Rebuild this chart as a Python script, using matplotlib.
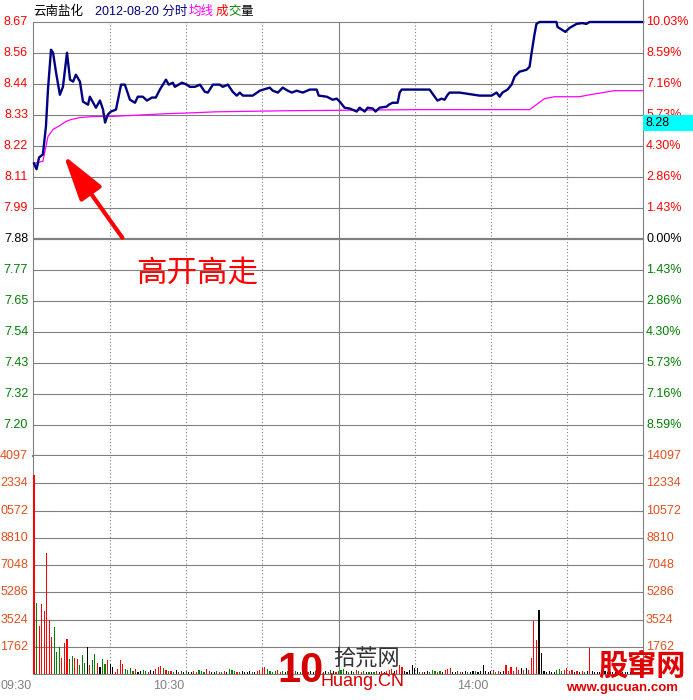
import matplotlib
matplotlib.use('Agg')
import matplotlib.pyplot as plt
from matplotlib.lines import Line2D
from matplotlib.patches import Rectangle

plt.rcParams['font.family'] = ['Liberation Sans', 'Noto Sans CJK SC', 'DejaVu Sans']

# --- data --------------------------------------------------------------
# price line (minute index from 09:30, price)
price_minute = [0, 1, 2, 3.5, 4.7, 5.5, 6.7, 7.5, 8.7, 10.2, 11.4, 13, 14.2, 15.4, 16.5,
                18.1, 19.3, 21.3, 22, 24.4, 26, 27.2, 28, 29.1, 30.3, 32.3, 34.3, 35.8,
                37.8, 39.8, 40.9, 42.9, 44.5, 46.5, 48, 49.6, 52, 53.1, 54.7, 55.5, 58.3,
                60.2, 61.4, 63.4, 65.4, 67.3, 68.5, 70.5, 73.2, 74.4, 76.4, 78.3, 79.9,
                81.1, 82.3, 86.2, 89, 92.9, 94.1, 96.1, 98, 100, 101.6, 103.5, 105.9,
                108.7, 111.4, 112.2, 115.4, 117.7, 119.3, 120.5, 122.4, 124.4, 127.2,
                128.3, 130.3, 131.5, 133.5, 134.6, 136.2, 139, 139.8, 141.3, 143.3, 144.1,
                144.9, 155.9, 157.9, 159, 160.6, 161.8, 163, 163.8, 167.7, 175.6, 180.3,
                182.3, 183.5, 184.6, 186.6, 188.2, 189.4, 191.3, 194.1, 195.3, 196.1,
                197.2, 198, 199.2, 205.9, 206.3, 209.4, 211, 213.8, 216.1, 217.7, 218.9, 240]
price_value = [8.155, 8.134, 8.177, 8.188, 8.29, 8.424, 8.569, 8.558, 8.485, 8.405, 8.434,
               8.558, 8.46, 8.453, 8.478, 8.453, 8.38, 8.369, 8.398, 8.358, 8.384, 8.351,
               8.304, 8.333, 8.344, 8.351, 8.442, 8.442, 8.387, 8.376, 8.398, 8.398, 8.384,
               8.395, 8.395, 8.424, 8.46, 8.442, 8.449, 8.434, 8.449, 8.442, 8.434, 8.434,
               8.442, 8.416, 8.413, 8.442, 8.442, 8.434, 8.442, 8.416, 8.402, 8.413, 8.402,
               8.402, 8.42, 8.431, 8.42, 8.413, 8.431, 8.42, 8.413, 8.42, 8.413, 8.424,
               8.424, 8.402, 8.398, 8.387, 8.391, 8.38, 8.358, 8.355, 8.344, 8.358, 8.344,
               8.358, 8.355, 8.344, 8.358, 8.362, 8.369, 8.376, 8.376, 8.413, 8.424, 8.424,
               8.398, 8.384, 8.391, 8.387, 8.405, 8.413, 8.413, 8.402, 8.402, 8.413, 8.398,
               8.413, 8.424, 8.442, 8.471, 8.489, 8.496, 8.507, 8.558, 8.623, 8.663, 8.67,
               8.67, 8.652, 8.634, 8.648, 8.663, 8.666, 8.663, 8.67, 8.67]

# average price line
avg_minute = [0, 3.5, 5.5, 7.5, 10.2, 12.6, 14.6, 18.1, 23.2, 29.9, 39, 51.6, 61.4, 71.7,
              100, 152, 195.3, 201.2, 205.1, 215, 218.9, 228.7, 240]
avg_value = [8.155, 8.163, 8.253, 8.279, 8.293, 8.308, 8.315, 8.322, 8.326, 8.326, 8.33,
             8.336, 8.339, 8.343, 8.347, 8.351, 8.351, 8.391, 8.398, 8.398, 8.405, 8.42, 8.42]

# volume per minute and bar colour (r up, g down, k unchanged)
volume = [12900, 4570, 3130, 4500, 4050, 7830, 3460, 2400, 3070, 1440,
          1760, 1040, 2020, 2280, 980, 1170, 1040, 980, 590, 1240,
          720, 1760, 590, 910, 1300, 720, 450, 980, 650, 910,
          650, 450, 130, 320, 900, 650, 300, 260, 390, 200,
          330, 130, 200, 260, 200, 130, 260, 200, 330, 450,
          520, 390, 260, 200, 200, 130, 260, 130, 200, 130,
          200, 130, 130, 200, 130, 260, 200, 130, 330, 200,
          130, 130, 200, 130, 130, 200, 130, 330, 260, 200,
          130, 130, 200, 130, 130, 200, 130, 130, 200, 260,
          390, 450, 330, 200, 130, 200, 260, 130, 200, 130,
          200, 130, 130, 200, 130, 130, 200, 130, 130, 200,
          130, 200, 260, 200, 130, 200, 130, 260, 200, 130,
          200, 260, 330, 200, 130, 200, 130, 260, 200, 130,
          200, 130, 130, 130, 130, 200, 130, 200, 130, 200,
          260, 330, 200, 260, 580, 450, 200, 130, 260, 580,
          390, 390, 130, 130, 130, 200, 130, 260, 200, 130,
          200, 130, 260, 330, 390, 130, 130, 200, 130, 130,
          200, 130, 130, 200, 200, 130, 200, 580, 200, 130,
          200, 260, 130, 200, 130, 200, 580, 200, 450, 200,
          450, 260, 390, 260, 390, 260, 1030, 3420, 2200, 4150,
          1370, 200, 130, 200, 130, 130, 260, 330, 200, 260,
          390, 200, 260, 130, 200, 130, 200, 130, 200, 1700,
          200, 130, 130, 130, 130, 200, 130, 130, 130, 130,
          200, 130, 130, 130, 130, 130, 200, 130, 130, 130,
          260]
vol_colors = ("rgrrrrrrgg grrrggrrgg gkrggrkggr kkrrrrgggg rkkggrkkrr "
              "rgrgrgkrgk gkkrrgggrr kkgrgrkggg rgkkkkgkrr rrggggrrgk "
              "grkgkgrkrk kggkgkggkr gggkgkgrgr gkgkgrkrkr rrkrrrkkkk "
              "kkgrkkgggr gkrrrkkgrk kgkkgkkkkk krgrkkrrrr rrkrkrrrrk "
              "kkkkkkgggr rrrkrkrgkr kkkkkkkkkk kkkkkkkkkk k").replace(" ", "")

price_labels = ['8.67', '8.56', '8.44', '8.33', '8.22', '8.11', '7.99', '7.88',
                '7.77', '7.65', '7.54', '7.43', '7.32', '7.20']
pct_labels = ['10.03%', '8.59%', '7.16%', '5.73%', '4.30%', '2.86%', '1.43%', '0.00%',
              '1.43%', '2.86%', '4.30%', '5.73%', '7.16%', '8.59%']
vol_levels = [14097, 12334, 10572, 8810, 7048, 5286, 3524, 1762]
vol_left_labels = ['4097', '2334', '0572', '8810', '7048', '5286', '3524', '1762']
vol_right_labels = ['14097', '12334', '10572', '8810', '7048', '5286', '3524', '1762']
time_ticks = [0, 60, 180]
time_labels = ['09:30', '10:30', '14:00']

prev_close = 7.88
top_price = 8.67
step = (top_price - prev_close) / 7

# --- figure --------------------------------------------------------------
W, H = 693, 700


def fx(x):
    return x / W


def fy(y):
    return 1 - y / H


GRAY = '#808080'
NAVY = '#000080'
ORANGE = '#e0501e'

fig = plt.figure(figsize=(6.93, 7.0), dpi=100)
ax = fig.add_axes([fx(33), fy(456), fx(643) - fx(33), fy(22) - fy(456)])
axv = fig.add_axes([fx(33), fy(674), fx(643) - fx(33), fy(456) - fy(674)])

for a in (ax, axv):
    a.set_xlim(-0.4, 240)
    a.set_xticks([])
    a.set_yticks([])
    for s in a.spines.values():
        s.set_color(GRAY)
        s.set_linewidth(0.8)
    for m in [30, 60, 90, 150, 180, 210]:
        a.axvline(m, color=GRAY, lw=0.8, ls=(0, (1, 2)), zorder=1)
    a.axvline(120, color=GRAY, lw=0.8, zorder=1)

ax.set_ylim(top_price - 14 * step, top_price)
axv.set_ylim(0, vol_levels[0])
ax.spines['bottom'].set_linewidth(1.6)
axv.spines['top'].set_visible(False)

levels = [top_price - k * step for k in range(14)]
for k, lv in enumerate(levels[1:], start=1):
    ax.axhline(lv, color=GRAY, lw=1.6 if k == 7 else 0.8, zorder=1)
for lv in vol_levels[1:]:
    axv.axhline(lv, color=GRAY, lw=0.8, zorder=1)

# lines
ax.plot(avg_minute, avg_value, color='#ff00ff', lw=0.9, zorder=4, clip_on=False)
ax.plot(price_minute, price_value, color=NAVY, lw=1.7, zorder=5, clip_on=False)

# volume bars
cmap = {'r': '#ff0000', 'g': '#008000', 'k': '#000000'}
axv.bar(range(len(volume)), volume, width=0.45, color=[cmap[c] for c in vol_colors],
        linewidth=0, zorder=3)

# axis labels
for k, (lv, pl, pc) in enumerate(zip(levels, price_labels, pct_labels)):
    col = '#ff0000' if k < 7 else ('#000000' if k == 7 else '#008000')
    ax.text(-0.008, lv, pl, transform=ax.get_yaxis_transform(), ha='right', va='center',
            fontsize=9, color=col, clip_on=False)
    ax.text(1.005, lv, pc, transform=ax.get_yaxis_transform(), ha='left', va='center',
            fontsize=9, color=col, clip_on=False)
for lv, ll, rl in zip(vol_levels, vol_left_labels, vol_right_labels):
    axv.text(-0.008, lv, ll, transform=axv.get_yaxis_transform(), ha='right', va='center',
             fontsize=9, color=ORANGE, clip_on=False)
    axv.text(1.005, lv, rl, transform=axv.get_yaxis_transform(), ha='left', va='center',
             fontsize=9, color=ORANGE, clip_on=False)
for t, lab in zip(time_ticks, time_labels):
    axv.text(t - 0.8, -0.055, lab, transform=axv.get_xaxis_transform(), ha='right',
             va='center', fontsize=9, color=GRAY, clip_on=False)

# right border above the chart
fig.add_artist(Line2D([fx(643), fx(643)], [fy(0), fy(22)], color=GRAY, lw=0.8))

# title
fig.text(fx(33), fy(12), '云南盐化', fontsize=9, color='black', va='center')
fig.text(fx(95), fy(12), '2012-08-20 分时', fontsize=9, color=NAVY, va='center')
fig.text(fx(189), fy(12), '均线', fontsize=9, color='#ff00ff', va='center')
fig.text(fx(216), fy(12), '成', fontsize=9, color='#ff0000', va='center')
fig.text(fx(228), fy(12), '交', fontsize=9, color='#008000', va='center')
fig.text(fx(240), fy(12), '量', fontsize=9, color='black', va='center')

# current price box
fig.add_artist(Rectangle((fx(643), fy(131)), fx(50), 16 / H, transform=fig.transFigure,
                         facecolor='#00ffff', edgecolor='none', zorder=10))
fig.text(fx(645), fy(123), '8.28', fontsize=9, color='black', va='center', zorder=11)

# annotation
fig.text(fx(136), fy(275), '高开高走', fontsize=22, color='#ff0000', va='center')
ax.annotate('', xy=(fx(62), fy(153)), xycoords='figure fraction',
            xytext=(fx(124), fy(240)), textcoords='figure fraction',
            arrowprops=dict(arrowstyle='-|>,head_length=1.4,head_width=0.4',
                            color='#ff0000', lw=3, mutation_scale=20))

# watermarks
fig.text(fx(277), fy(671), '10', fontsize=30, fontweight='bold', color='#d40000',
         va='center', zorder=12)
fig.text(fx(333), fy(660), '拾荒网', fontsize=16, color='#333333', va='center', zorder=12)
fig.text(fx(320), fy(682), 'Huang.CN', fontsize=13, color='#d40000', va='center', zorder=12)
fig.text(fx(598), fy(667), '股窜网', fontsize=21, fontweight='bold', color='#e00000',
         va='center', zorder=12)
fig.text(fx(566), fy(688), 'www.gucuan.com', fontsize=9.5, fontweight='bold', color='#e00000',
         va='center', zorder=12)

fig.savefig('out.png', dpi=100)
